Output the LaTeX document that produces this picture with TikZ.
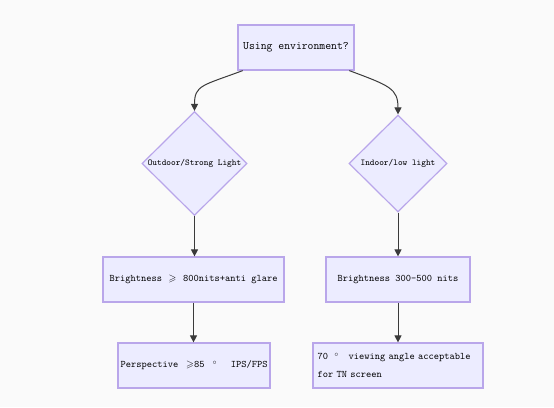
\documentclass[tikz,border=0pt]{standalone}
\usepackage{amssymb}
\usepackage{fontspec}
\usetikzlibrary{shapes.geometric,arrows.meta,calc}
\definecolor{bgc}{HTML}{FAFAFA}
\definecolor{nodefill}{HTML}{ECECFF}
\definecolor{nodeline}{HTML}{B9A6EA}
\definecolor{edge}{HTML}{3A3A3A}
\newcommand\wch[2][c]{\makebox[1.05em][#1]{#2}}
\begin{document}
\begin{tikzpicture}[x=1pt,y=-1pt,
  box/.style={draw=nodeline,fill=nodefill,line width=1.2pt,inner sep=0pt,font=\ttfamily\fontsize{10}{18}\selectfont},
  dec/.style={draw=nodeline,fill=nodefill,line width=1.2pt,diamond,aspect=1,inner sep=0pt,font=\ttfamily\fontsize{8.9}{10}\selectfont},
  arr/.style={draw=edge,line width=1pt,-{Triangle[length=7pt,width=7pt]}}]
\fill[bgc] (0,0) rectangle (554,407);
\useasboundingbox (0,0) rectangle (554,407);
\node[box,minimum width=116pt,minimum height=45pt,font=\ttfamily\fontsize{11.4}{13}\selectfont] (top) at (296,47.5) {Using environment?};
\node[dec,minimum width=105pt,minimum height=104pt] (out) at (194.5,163.5) {Outdoor/Strong Light};
\node[dec,minimum width=98pt,minimum height=97pt] (ind) at (398,163.5) {Indoor/low light};
\node[box,minimum width=181pt,minimum height=45pt] (b1) at (193.5,279.5) {Brightness \wch{$\geqslant$} 800nits+anti glare};
\node[box,minimum width=144pt,minimum height=45pt] (b2) at (398,279.5) {Brightness 300-500 nits};
\node[box,minimum width=152pt,minimum height=45pt] (p1) at (194,365.5) {Perspective \wch[r]{$\geqslant$}85 \wch{$^\circ$}\ \ IPS/FPS};
\node[box,minimum width=170pt,minimum height=45pt,align=left,text width=161pt] (p2) at (398,365.5) {70 \wch{$^\circ$}\ \ viewing angle acceptable\\for TN screen};
\coordinate (s1) at ($(top.south west)!0.045!(top.south east)$);
\coordinate (s2) at ($(top.south west)!0.955!(top.south east)$);
\draw[arr] (s1) .. controls ($(s1)+(-40,15)$) and ($(out.north)+(0,-26)$) .. (out.north);
\draw[arr] (s2) .. controls ($(s2)+(40,15)$) and ($(ind.north)+(0,-26)$) .. (ind.north);
\draw[arr] (out.south) -- (out.south |- b1.north);
\draw[arr] (ind.south) -- (ind.south |- b2.north);
\draw[arr] (b1.south) -- (b1.south |- p1.north);
\draw[arr] (b2.south) -- (b2.south |- p2.north);
\end{tikzpicture}
\end{document}
